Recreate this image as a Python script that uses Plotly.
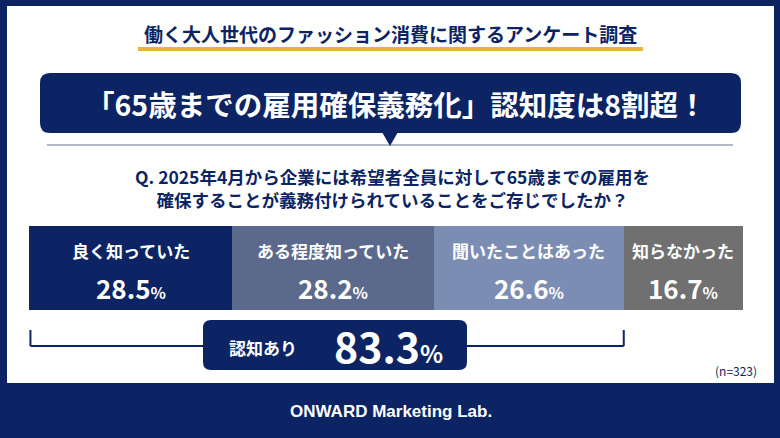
import plotly.graph_objects as go

# ---- data ----
categories = ["良く知っていた", "ある程度知っていた", "聞いたことはあった", "知らなかった"]
values = [28.5, 28.2, 26.6, 16.7]
colors = ["#0c2464", "#5b6a8c", "#7c8db4", "#707070"]
aware_label = "認知あり"
n_label = "(n=323)"
survey_title = "働く大人世代のファッション消費に関するアンケート調査"
headline = "「65歳までの雇用確保義務化」認知度は8割超！"
question_lines = ["Q. 2025年4月から企業には希望者全員に対して65歳までの雇用を",
                  "確保することが義務付けられていることをご存じでしたか？"]
footer = "ONWARD Marketing Lab."

W, H = 780, 438
NAVY = "#0c2464"
JP = "Noto Sans CJK JP"


def px(x):
    return x / W


def py(y):
    return 1 - y / H


def rrect(x0, y0, x1, y1, r):
    # rounded rectangle path in paper coords from pixel coords
    X0, X1 = px(x0), px(x1)
    Y0, Y1 = py(y0), py(y1)
    rx, ry = r / W, r / H
    return (f"M{X0+rx},{Y0} L{X1-rx},{Y0} Q{X1},{Y0} {X1},{Y0-ry} "
            f"L{X1},{Y1+ry} Q{X1},{Y1} {X1-rx},{Y1} L{X0+rx},{Y1} "
            f"Q{X0},{Y1} {X0},{Y1+ry} L{X0},{Y0-ry} Q{X0},{Y0} {X0+rx},{Y0} Z")


fig = go.Figure()
for cat, v, c in zip(categories, values, colors):
    fig.add_trace(go.Bar(y=["q"], x=[v], name=cat, orientation="h",
                         marker=dict(color=c, line=dict(width=0)),
                         width=1, hoverinfo="skip", showlegend=False))

shapes = []
# white panel
shapes.append(dict(type="rect", xref="paper", yref="paper", x0=px(7), x1=px(774),
                   y0=py(383), y1=py(6), fillcolor="white", line=dict(width=0), layer="below"))
# gold underline
shapes.append(dict(type="line", xref="paper", yref="paper", x0=px(138), x1=px(643),
                   y0=py(49), y1=py(49), line=dict(color="#e6b43a", width=4), layer="below"))
# gray separator line
shapes.append(dict(type="line", xref="paper", yref="paper", x0=px(47), x1=px(733),
                   y0=py(145), y1=py(145), line=dict(color="#9ba4b6", width=1.5), layer="below"))
# banner
shapes.append(dict(type="path", xref="paper", yref="paper", path=rrect(40, 73, 741, 133, 10),
                   fillcolor=NAVY, line=dict(width=0), layer="below"))
shapes.append(dict(type="path", xref="paper", yref="paper",
                   path=f"M{px(382)},{py(132)} L{px(398)},{py(132)} L{px(390)},{py(146)} Z",
                   fillcolor=NAVY, line=dict(width=0), layer="below"))
# bracket
aware = sum(values[:3])
for xv in (0.2, aware):
    shapes.append(dict(type="line", xref="x", yref="paper", x0=xv, x1=xv,
                       y0=py(330), y1=py(346), line=dict(color=NAVY, width=2)))
shapes.append(dict(type="line", xref="x", yref="paper", x0=0.2, x1=aware,
                   y0=py(346), y1=py(346), line=dict(color=NAVY, width=2)))
# aware box
shapes.append(dict(type="path", xref="paper", yref="paper", path=rrect(203, 320, 467, 370, 8),
                   fillcolor=NAVY, line=dict(width=0)))

ann = []


def text(x, y, t, size, color, family=JP, xref="paper", xanchor="center"):
    ann.append(dict(x=x if xref != "paper" else px(x), y=py(y), xref=xref, yref="paper",
                    text=t, showarrow=False, xanchor=xanchor, yanchor="middle",
                    font=dict(size=size, color=color, family=family)))


text(390, 34, f"<b>{survey_title}</b>", 19, NAVY)
text(396, 103, f"<b>{headline}</b>", 28.5, "white")
text(392, 188, "<b>" + "<br>".join(question_lines) + "</b>", 17.5, NAVY)

cum = 0
for cat, v in zip(categories, values):
    mid = cum + v / 2
    cum += v
    text(mid, 250, f"<b>{cat}</b>", 17, "white", xref="x")
    text(mid, 287, f"<b>{v:.1f}<span style='font-size:16px'>%</span></b>", 26, "white", xref="x")

text(263, 347, f"<b>{aware_label}</b>", 17, "white")
text(388, 345, f"<b>{aware:.1f}<span style='font-size:24px'>%</span></b>", 41, "white")
text(736, 370, n_label, 12, NAVY)
text(391, 411, f"<b>{footer}</b>", 17, "white", family="Liberation Sans, Arial, sans-serif")

fig.update_layout(
    width=W, height=H, margin=dict(l=0, r=0, t=0, b=0),
    paper_bgcolor=NAVY, plot_bgcolor="rgba(0,0,0,0)",
    barmode="stack", bargap=0,
    xaxis=dict(domain=[px(29), px(743)], range=[0, 100], visible=False, fixedrange=True),
    yaxis=dict(domain=[py(310), py(226)], range=[-0.5, 0.5], visible=False, fixedrange=True),
    shapes=shapes, annotations=ann, showlegend=False,
)

fig.write_html("out.html", config={"displayModeBar": False},
               post_script="document.body.style.margin='0';document.body.style.overflow='hidden';")
